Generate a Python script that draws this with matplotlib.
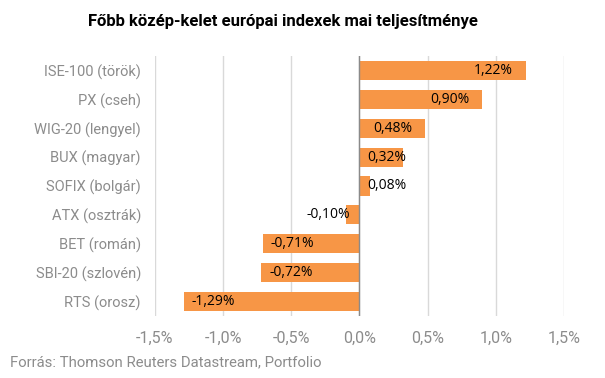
import matplotlib
matplotlib.use("Agg")
import matplotlib.pyplot as plt

# ── Data ────────────────────────────────────────────────────────────────────
indexes = [
    "ISE-100 (török)",
    "PX (cseh)",
    "WIG-20 (lengyel)",
    "BUX (magyar)",
    "SOFIX (bolgár)",
    "ATX (osztrák)",
    "BET (román)",
    "SBI-20 (szlovén)",
    "RTS (orosz)",
]
changes = [1.22, 0.90, 0.48, 0.32, 0.08, -0.10, -0.71, -0.72, -1.29]
x_ticks = [-1.5, -1.0, -0.5, 0.0, 0.5, 1.0, 1.5]

# ── Style ───────────────────────────────────────────────────────────────────
BAR_COLOR = "#F79646"
GRAY_TEXT = "#8c8c8c"
GRID_COLOR = "#d9d9d9"
ZERO_COLOR = "#8a8a8a"
LABEL_FONT = ["Open Sans", "DejaVu Sans"]

plt.rcParams["font.family"] = ["Roboto", "DejaVu Sans"]

fig = plt.figure(figsize=(6.05, 3.78), dpi=100)
ax = fig.add_axes([0.256, 0.164, 0.676, 0.688])

y = list(range(len(indexes)))
ax.barh(y, changes, height=0.66, color=BAR_COLOR, zorder=2)

ax.set_ylim(len(indexes) - 0.5, -0.5)
ax.set_xlim(-1.5, 1.5)
ax.set_xticks(x_ticks)
ax.set_xticklabels([f"{t:.1f}%".replace(".", ",") for t in x_ticks])
ax.set_yticks(y)
ax.set_yticklabels(indexes)

for s in ax.spines.values():
    s.set_visible(False)
ax.tick_params(axis="both", length=0, colors=GRAY_TEXT)
ax.tick_params(axis="x", pad=11, labelsize=11.5)
ax.tick_params(axis="y", pad=10, labelsize=10.5)
ax.grid(True, axis="x", color=GRID_COLOR, linewidth=1, zorder=0)
ax.axvline(0, color=ZERO_COLOR, linewidth=1, zorder=3)

# value labels, Excel "inside end" style
for yi, v in zip(y, changes):
    label = f"{v:.2f}%".replace(".", ",")
    if v >= 0:
        if v > 0.4:
            xy, off, ha = (v, yi), (-9, 0), "right"
        else:
            xy, off, ha = (0, yi), (6, 0), "left"
    else:
        if v < -0.4:
            xy, off, ha = (v, yi), (6, 0), "left"
        else:
            xy, off, ha = (0, yi), (-7, 0), "right"
    ax.annotate(label, xy, xytext=off, textcoords="offset points",
                ha=ha, va="center", fontsize=10, color="black",
                family=LABEL_FONT, zorder=4)

fig.text(0.468, 0.942, "Főbb közép-kelet európai indexek mai teljesítménye",
         ha="center", va="center", fontsize=12, fontweight="bold", color="black")
fig.text(0.017, 0.042, "Forrás: Thomson Reuters Datastream, Portfolio",
         ha="left", va="center", fontsize=10.7, color=GRAY_TEXT)

fig.savefig("out.png", dpi=100)
